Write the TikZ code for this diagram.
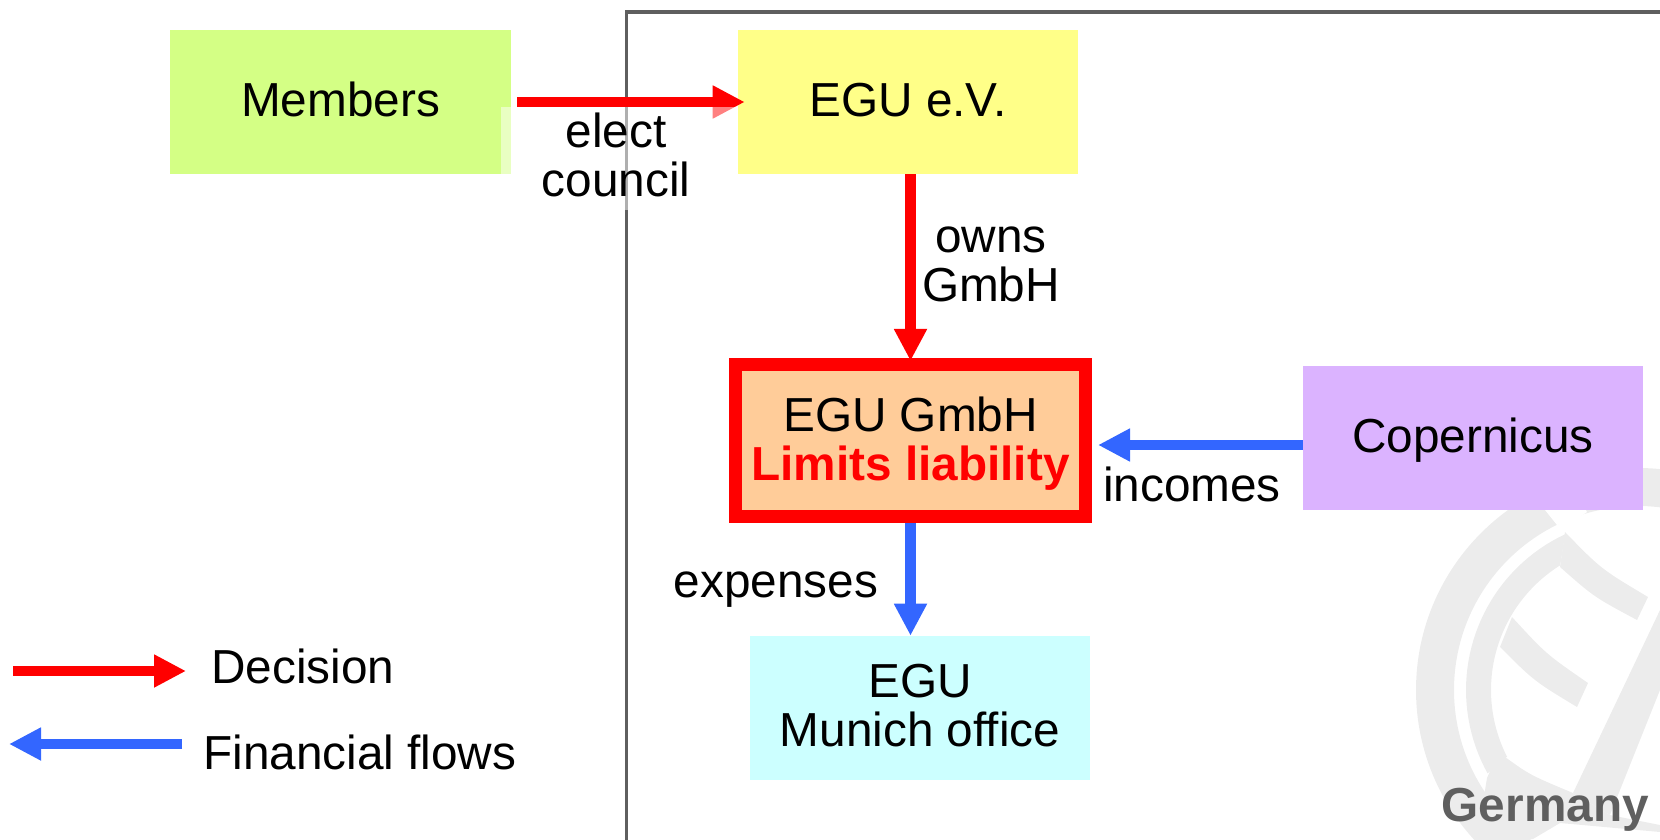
\documentclass[tikz,border=0pt]{standalone}
\usepackage{fontspec}
\setmainfont{Liberation Sans}
\usetikzlibrary{arrows.meta}
\definecolor{wmgray}{HTML}{ECECEC}
\definecolor{framegray}{HTML}{5F5F5F}
\definecolor{flowblue}{HTML}{3366FF}
\definecolor{memgreen}{HTML}{D4FF85}
\definecolor{egyellow}{HTML}{FFFF88}
\definecolor{gmorange}{HTML}{FFCC99}
\definecolor{coppurple}{HTML}{DBB3FF}
\definecolor{muncyan}{HTML}{CCFFFF}
\def\px{0.75pt}
\newcommand{\toprule}[1]{\rule{0pt}{#1}}
\newcommand{\botrule}[1]{\rule[-#1]{0pt}{#1}}
\tikzset{
  txt/.style={font=\fontsize{35.8}{36.75}\selectfont, inner sep=0pt, align=center},
  plainbox/.style={txt, minimum width=340*\px, minimum height=144*\px},
  redflow/.style={draw=red, line width=8.2pt, -{Triangle[length=24pt,width=23.2pt]}},
  blueflow/.style={draw=flowblue, line width=8.2pt, -{Triangle[length=24pt,width=23.2pt]}},
  lbl/.style={txt, anchor=base}
}
\begin{document}
\begin{tikzpicture}[x=0.75pt,y=-0.75pt]
\clip (0,0) rectangle (1660,839);
% watermark
\fill[wmgray,even odd rule] (1638,690) circle [radius=222*\px] (1638,690) circle [radius=184*\px];
\fill[white] (1540,500) -- (1545,510) -- (1557,525) -- (1575,520) -- (1587,512) -- (1583,505) -- cycle;
\fill[wmgray] plot[domain=245:151,samples=40] ({1638+172*cos(\x)},{690+172*sin(\x)})
  -- plot[domain=153:238,samples=40] ({1638+147*cos(\x)},{690+147*sin(\x)}) -- cycle;
\fill[wmgray] (1565,532) .. controls (1601,569) .. (1648,597) -- (1637,620) .. controls (1594,597) .. (1560,567) -- cycle;
\fill[wmgray] (1512,617) .. controls (1546,654) .. (1588,683) -- (1577,707) .. controls (1534,681) .. (1500,647) -- cycle;
\fill[wmgray] (1660,610) -- (1573,793) -- (1610,815) -- (1660,690) -- cycle;
\fill[wmgray] (1487,778) -- (1495,760) -- (1505,757) .. controls (1530,775) .. (1573,793) -- (1610,815) -- (1660,825) -- (1660,832) -- (1560,823) -- (1533,839) -- (1477,839) -- cycle;
% frame
\draw[framegray,line width=2.6pt] (626.5,845) |- (1665,12);
% boxes
\node[plainbox,fill=memgreen,minimum width=341*\px] (members) at (340.5,102) {\toprule{30pt}Members\botrule{8.25pt}};
\node[plainbox,fill=egyellow] (ev) at (908,102) {\toprule{30pt}EGU e.V.\botrule{8.25pt}};
\node[plainbox,fill=coppurple] (cop) at (1473,438) {\toprule{30pt}Copernicus\botrule{8pt}};
\node[plainbox,fill=muncyan] (munich) at (920,708) {\toprule{27.75pt}EGU\\Munich office\botrule{7.5pt}};
\node[txt,fill=gmorange,draw=red,line width=10pt,minimum width=349.7*\px,minimum height=151.7*\px] (gmbh) at (910.5,440.5)
  {\toprule{30.5pt}EGU GmbH\\{\fontsize{35.8}{36.75}\selectfont\bfseries\color{red}Limits liability}\botrule{7.5pt}};
% connectors
\draw[redflow] ([xshift=6*\px]members.east) -- ([xshift=7*\px]ev.west);
\draw[redflow] (gmbh.north |- ev.south) -- ([yshift=-3*\px]gmbh.north);
\coordinate (incomeStart) at (cop.west |- 0,445);
\coordinate (incomeEnd) at ([xshift=6*\px]gmbh.east |- 0,445);
\draw[blueflow] (incomeStart) -- (incomeEnd);
\draw[blueflow] (gmbh.south) -- (gmbh.south |- munich.north);
% pale patch of the label
\fill[white,fill opacity=0.5] (501,107) rectangle (738,210);
% labels
\node[txt] (elect) at (616,155) {\toprule{26pt}elect\\council\botrule{1pt}};
\node[txt] (owns) at (991,260) {\toprule{26pt}owns\\GmbH\botrule{1pt}};
\node[lbl] (incomes) at (1192,501) {incomes};
\node[lbl] (expenses) at (776,597) {expenses};
\node[lbl,anchor=base west] (decision) at (211,683) {Decision};
\node[lbl,anchor=base west] (financial) at (203,769) {Financial flows};
\node[lbl,anchor=base east,text=framegray] (germany) at (1649,821) {\bfseries Germany};
% legend arrows
\coordinate (redA) at (13,671);
\coordinate (redB) at (186,671);
\coordinate (blueA) at (182,744);
\coordinate (blueB) at (9,744);
\draw[redflow] (redA) -- (redB);
\draw[blueflow] (blueA) -- (blueB);
\end{tikzpicture}
\end{document}
